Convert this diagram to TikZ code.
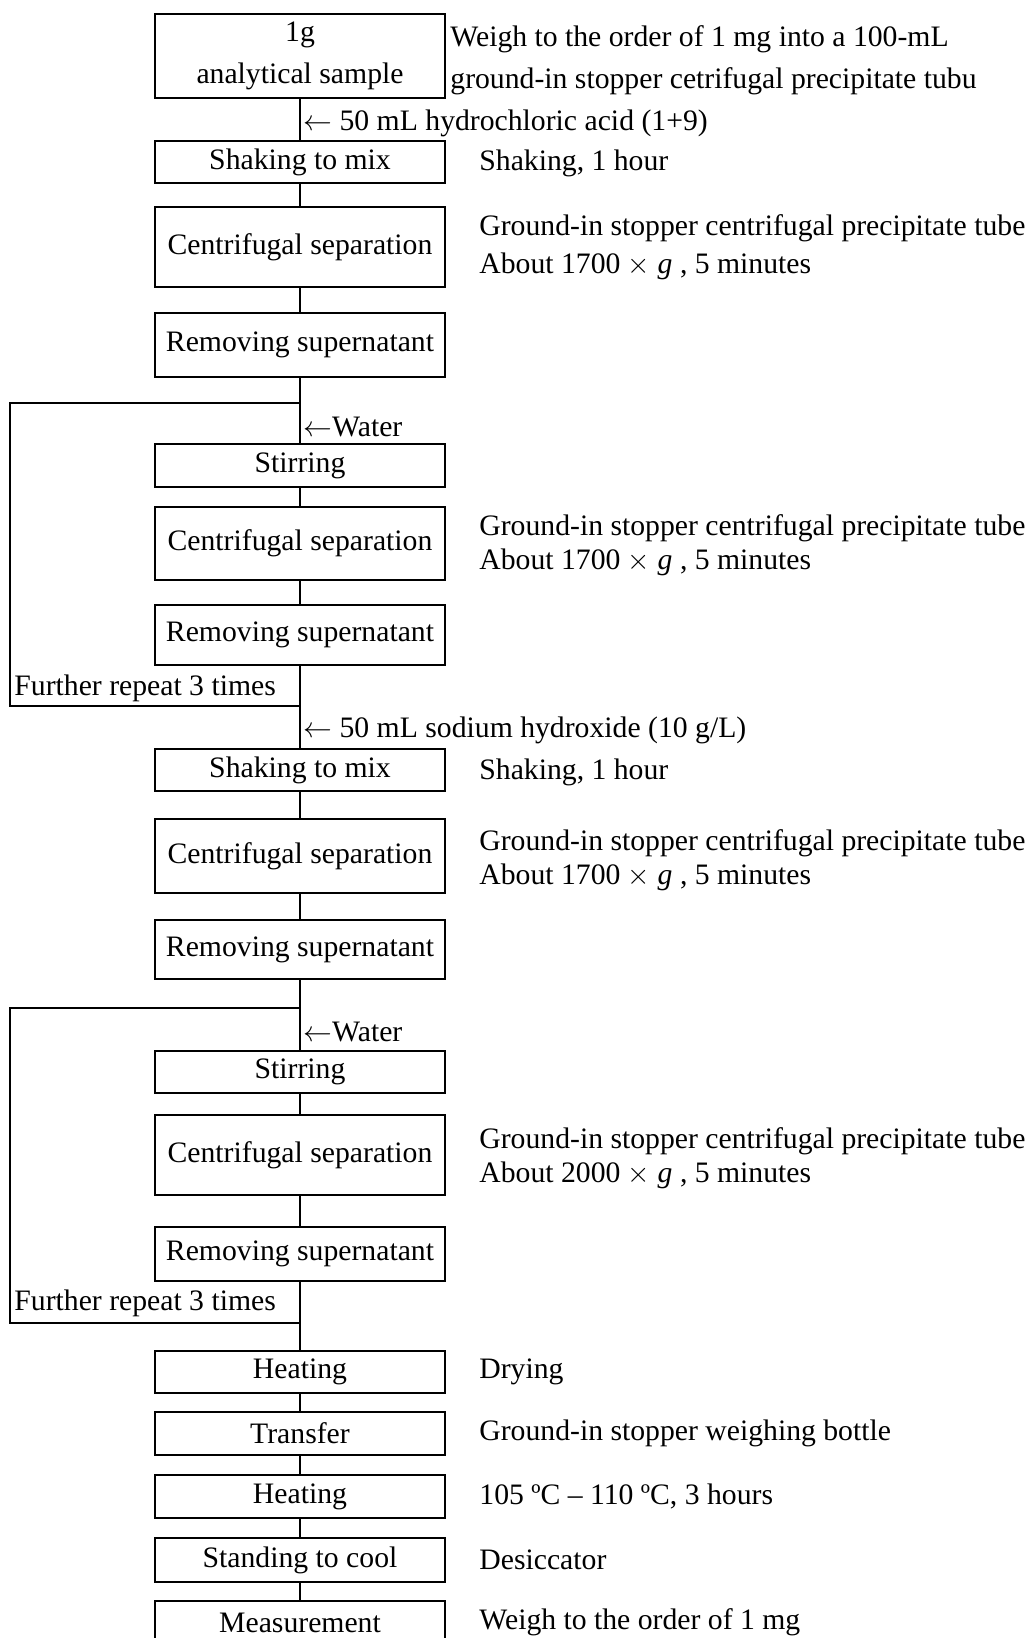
\documentclass[tikz,border=0pt]{standalone}
\usepackage{fontspec}
\setmainfont{Liberation Serif}
\usepackage{tikz}
\usetikzlibrary{positioning,calc}
\tikzset{
  fcbox/.style={draw=black, line width=1pt, inner sep=0pt, minimum width=145pt,
                align=center, font=\fontsize{14.85pt}{17pt}\selectfont},
  fcnote/.style={anchor=west, inner sep=0pt, align=left,
                 font=\fontsize{14.85pt}{17pt}\selectfont},
  fcedge/.style={draw=black, line width=0.6pt},
  fcloop/.style={draw=black, line width=1pt},
}

\begin{document}
\begin{tikzpicture}[x=0.5pt,y=0.5pt]
  \useasboundingbox (0,0) rectangle (1030,-1638);
  % main column of steps
  \node[fcbox, minimum height=42pt] (smp) at (300,-56) {1g\\[4pt]analytical sample};
  \node[fcbox, minimum height=21pt] (shk1) at (300,-162) {Shaking to mix};
  \node[fcbox, minimum height=40pt] (cen1) at (300,-247) {Centrifugal separation};
  \node[fcbox, minimum height=32pt] (rem1) at (300,-345) {Removing supernatant};
  \node[fcbox, minimum height=21.5pt] (stir1) at (300,-465.5) {Stirring};
  \node[fcbox, minimum height=36.5pt] (cen2) at (300,-543.5) {Centrifugal separation};
  \node[fcbox, minimum height=30pt] (rem2) at (300,-635) {Removing supernatant};
  \node[fcbox, minimum height=21pt] (shk2) at (300,-770) {Shaking to mix};
  \node[fcbox, minimum height=37pt] (cen3) at (300,-856) {Centrifugal separation};
  \node[fcbox, minimum height=29.5pt] (rem3) at (300,-949.5) {Removing supernatant};
  \node[fcbox, minimum height=21pt] (stir2) at (300,-1072) {Stirring};
  \node[fcbox, minimum height=40pt] (cen4) at (300,-1155) {Centrifugal separation};
  \node[fcbox, minimum height=27pt] (rem4) at (300,-1254) {Removing supernatant};
  \node[fcbox, minimum height=21pt] (heat1) at (300,-1372) {Heating};
  \node[fcbox, minimum height=21.5pt] (trans) at (300,-1433.5) {Transfer};
  \node[fcbox, minimum height=21.5pt] (heat2) at (300,-1496.5) {Heating};
  \node[fcbox, minimum height=22pt] (cool) at (300,-1560) {Standing to cool};
  \node[fcbox, minimum height=22pt] (meas) at (300,-1623) {Measurement};

  % connectors
  \foreach \a/\b in {smp/shk1,shk1/cen1,cen1/rem1,rem1/stir1,stir1/cen2,cen2/rem2,
                     rem2/shk2,shk2/cen3,cen3/rem3,rem3/stir2,stir2/cen4,cen4/rem4,
                     rem4/heat1,heat1/trans,trans/heat2,heat2/cool,cool/meas}
    {\draw[fcedge] (\a) -- (\b);}

  % repeat loops
  \coordinate (lp1a) at (300,-403);
  \coordinate (lp1b) at (300,-706);
  \coordinate (lp2a) at (300,-1008);
  \coordinate (lp2b) at (300,-1323);
  \draw[fcloop] (lp1a) -- ++(-290,0) |- (lp1b);
  \draw[fcloop] (lp2a) -- ++(-290,0) |- (lp2b);
  \node[fcnote] (rep1) at (14,-688) {Further repeat 3 times};
  \node[fcnote] (rep2) at (14,-1303) {Further repeat 3 times};

  % reagents added
  \node[fcnote] (add1) at (303,-123) {$\leftarrow$ 50 mL hydrochloric acid (1+9)};
  \node[fcnote] (wat1) at (303,-427) {$\leftarrow$Water};
  \node[fcnote] (add2) at (303,-730) {$\leftarrow$ 50 mL sodium hydroxide (10 g/L)};
  \node[fcnote] (wat2) at (303,-1032) {$\leftarrow$Water};

  % conditions
  \node[fcnote] (n-smp) at (450,-60)
    {Weigh to the order of 1 mg into a 100-mL\\[4pt]ground-in stopper cetrifugal precipitate tubu};
  \node[fcnote] (n-shk1) at (479,-163) {Shaking, 1 hour};
  \node[fcnote] (n-cen1) at (479,-247)
    {Ground-in stopper centrifugal precipitate tube\\[2pt]About 1700 $\times$ \textit{g} , 5 minutes};
  \node[fcnote] (n-cen2) at (479,-545)
    {Ground-in stopper centrifugal precipitate tube\\About 1700 $\times$ \textit{g} , 5 minutes};
  \node[fcnote] (n-shk2) at (479,-772) {Shaking, 1 hour};
  \node[fcnote] (n-cen3) at (479,-860)
    {Ground-in stopper centrifugal precipitate tube\\About 1700 $\times$ \textit{g} , 5 minutes};
  \node[fcnote] (n-cen4) at (479,-1158)
    {Ground-in stopper centrifugal precipitate tube\\About 2000 $\times$ \textit{g} , 5 minutes};
  \node[fcnote] (n-heat1) at (479,-1372) {Drying};
  \node[fcnote] (n-trans) at (479,-1433) {Ground-in stopper weighing bottle};
  \node[fcnote] (n-heat2) at (479,-1496) {105 ºC – 110 ºC, 3 hours};
  \node[fcnote] (n-cool) at (479,-1560) {Desiccator};
  \node[fcnote] (n-meas) at (479,-1622) {Weigh to the order of 1 mg};
\end{tikzpicture}
\end{document}
